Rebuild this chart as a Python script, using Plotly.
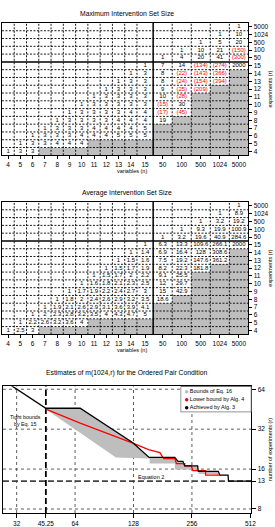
import math
import plotly.graph_objects as go

# ============================ data ============================
N_VALUES = ["4", "5", "6", "7", "8", "9", "10", "11", "12", "13", "14", "15",
            "50", "100", "500", "1024", "5000"]            # columns: variables (n)
R_VALUES = ["4", "5", "6", "7", "8", "9", "10", "11", "12", "13", "14", "15",
            "50", "100", "500", "1024", "5000"]            # rows: experiments (r), bottom -> top
E = None   # n < r : empty cell
X = "-"    # infeasible : shaded cell

MAX_SET_SIZE = [
    ["1", "3", "3", X, X, X, X, X, X, X, X, X, X, X, X, X, X],
    [E, "1", "3", "3", "4", "4", "4", X, X, X, X, X, X, X, X, X, X],
    [E, E, "1", "3", "3", "3", "4", "4", "4", "5", "5", "5", X, X, X, X, X],
    [E, E, E, "1", "3", "3", "3", "4", "4", "4", "4", "5", X, X, X, X, X],
    [E] * 4 + ["1", "3", "3", "3", "3", "4", "4", "4", "19", X, X, X, X],
    [E] * 5 + ["1", "3", "3", "3", "3", "4", "4", "(17)", "(45)", X, X, X],
    [E] * 6 + ["1", "3", "3", "3", "3", "3", "(15)", "30", X, X, X],
    [E] * 7 + ["1", "3", "3", "3", "3", "10", "(28)", X, X, X],
    [E] * 8 + ["1", "3", "3", "3", "9", "(25)", "(209)", X, X],
    [E] * 9 + ["1", "3", "3", "8", "(24)", "(154)", "(394)", X],
    [E] * 10 + ["1", "3", "8", "(22)", "(143)", "(366)", X],
    [E] * 11 + ["1", "7", "14", "(134)", "(274)", "2000"],
    [E] * 12 + ["1", "4", "20", "41", "(300)"],
    [E] * 13 + ["1", "10", "21", "(150)"],
    [E] * 14 + ["1", "5", "20"],
    [E] * 15 + ["1", "10"],
    [E] * 16 + ["1"],
]

AVG_SET_SIZE = [
    ["1", "2.5", "3", X, X, X, X, X, X, X, X, X, X, X, X, X, X],
    [E, "1", "2.2", "2.6", "3.2", "3.6", "4", X, X, X, X, X, X, X, X, X, X],
    [E, E, "1", "2", "2.3", "2.8", "3.2", "3.5", "4", "4.3", "4.7", "5", X, X, X, X, X],
    [E, E, E, "1", "1.9", "2.1", "2.6", "2.9", "3.1", "3.6", "3.9", "4.1", X, X, X, X, X],
    [E] * 4 + ["1", "1.8", "2", "2.4", "2.6", "2.9", "3.2", "3.5", "18.6", X, X, X, X],
    [E] * 5 + ["1", "1.7", "1.9", "2.2", "2.4", "2.7", "3", "15", "42.9", X, X, X],
    [E] * 6 + ["1", "1.6", "1.8", "2.1", "2.3", "2.5", "12", "29.7", X, X, X],
    [E] * 7 + ["1", "1.5", "1.7", "2", "2.2", "9.1", "25.5", X, X, X],
    [E] * 8 + ["1", "1.5", "1.7", "1.9", "8.2", "22.3", "181.8", X, X],
    [E] * 9 + ["1", "1.5", "1.6", "7.5", "19.2", "147.6", "361.2", X],
    [E] * 10 + ["1", "1.4", "6.9", "16.4", "128", "308.6", X],
    [E] * 11 + ["1", "6.3", "13.3", "109.6", "266.1", "2000"],
    [E] * 12 + ["1", "3.2", "19.6", "40.9", "284.6"],
    [E] * 13 + ["1", "9.3", "19.9", "100.9"],
    [E] * 14 + ["1", "3.2", "19.2"],
    [E] * 15 + ["1", "8.9"],
    [E] * 16 + ["1"],
]

# bottom panel: estimates of m(1024, r)
X_TICKS = [32, 45.25, 64, 128, 256, 512]
X_TICK_TEXT = ["32", "45.25", "64", "128", "256", "512"]
Y_TICKS = [8, 13, 16, 32, 64]
Y_TICK_TEXT = ["8", "13", "16", "32", "64"]
EQ15_LIMIT = 45.25
EQ2_VALUE = 13

BOUND_UPPER_M = [45.25, 68, 127, 154, 209, 217, 230, 235, 274, 276, 350, 357, 393]
BOUND_UPPER_R = [46, 46, 25.3, 19.6, 19.6, 18.3, 18.3, 16.9, 16.9, 15.4, 15.4, 14.4, 14.4]
BOUND_LOWER_M = [45.25, 104, 155, 155, 209, 209, 277, 277, 321, 393]
BOUND_LOWER_R = [45.25, 19.6, 19.2, 17.6, 17.6, 15.9, 15.9, 14.7, 14.7, 14.4]

LOWER_ALG4_M = [45.25, 68, 127, 153, 175, 183, 209, 213, 235, 235, 254, 259, 301, 301, 357]
LOWER_ALG4_R = [45.25, 35.5, 25.1, 22.4, 21.3, 19.2, 19.2, 17.6, 17.6, 16.9, 16.9, 15.6, 15.6, 14.4, 14.4]

ACHIEVED_M = [28, 45.25, 68, 127, 154, 209, 217, 230, 235, 274, 276, 350, 357, 393, 395, 520]
ACHIEVED_R = [73, 46, 46, 25.3, 19.6, 19.6, 18.3, 18.3, 16.9, 16.9, 15.4, 15.4, 14.4, 14.4, 13, 13]

LEGEND_LABELS = ["Bounds of Eq. 16", "Lower bound by Alg. 4", "Achieved by Alg. 3"]

# ============================ layout geometry ============================
FIG_W, FIG_H = 275, 527
FONT = "Liberation Sans, Arial, Helvetica, sans-serif"
GRAY = "#bebebe"
RED = "#ff0000"
TICK_FONT = dict(family=FONT, size=6.5, color="black")


def PX(x):
    return x / FIG_W


def PY(y):
    return 1 - y / FIG_H


TABLE_X = (2, 253)
TABLE_Y = [(22, 154.6), (201.4, 334)]
TITLE_Y = [13, 192.4]
XLAB_Y = [170.5, 350]
BOT_X = (3, 256)
BOT_Y = (386, 513)
LEG_BOX = (184, 256, 386, 412)

COL_W = [1.0] * 11 + [1.32] + [1.552] * 5
col_edges = [0.0]
for w in COL_W:
    col_edges.append(col_edges[-1] + w)
col_centers = [(a + b) / 2 for a, b in zip(col_edges[:-1], col_edges[1:])]
n_rows = len(R_VALUES)
row_edges = list(range(n_rows + 1))
row_centers = [i + 0.5 for i in range(n_rows)]
SPLIT = 12  # thick line between 15 and 50

fig = go.Figure()
shapes = []
annotations = []

tables = [(MAX_SET_SIZE, "Maximum Intervention Set Size"),
          (AVG_SET_SIZE, "Average Intervention Set Size")]

for i, (vals, title) in enumerate(tables):
    xa = "x" if i == 0 else "x%d" % (i + 1)
    ya = "y" if i == 0 else "y%d" % (i + 1)
    z = [[1 if v == X else None for v in row] for row in vals]
    fig.add_trace(go.Heatmap(x=col_edges, y=row_edges, z=z, xaxis=xa, yaxis=ya,
                             colorscale=[[0, GRAY], [1, GRAY]], zmin=0, zmax=1,
                             showscale=False, hoverinfo="skip"))
    tx, ty, tt, tc = [], [], [], []
    for ri, row in enumerate(vals):
        for ci, v in enumerate(row):
            if v is None or v == X:
                continue
            tx.append(col_centers[ci])
            ty.append(row_centers[ri])
            tt.append(v)
            tc.append(RED if v.startswith("(") else "black")
    fig.add_trace(go.Scatter(x=tx, y=ty, text=tt, mode="text", xaxis=xa, yaxis=ya,
                             textfont=dict(family=FONT, size=6, color=tc),
                             textposition="middle center", hoverinfo="skip",
                             showlegend=False))
    for k in range(1, len(col_edges) - 1):
        thick = (k == SPLIT)
        shapes.append(dict(type="line", xref=xa, yref=ya, x0=col_edges[k], x1=col_edges[k],
                           y0=row_edges[0], y1=row_edges[-1], layer="above",
                           line=dict(color="black", width=1.5 if thick else 0.9,
                                     dash="solid" if thick else "2px,1.5px")))
    for k in range(1, len(row_edges) - 1):
        thick = (k == SPLIT)
        shapes.append(dict(type="line", xref=xa, yref=ya, y0=row_edges[k], y1=row_edges[k],
                           x0=col_edges[0], x1=col_edges[-1], layer="above",
                           line=dict(color="black", width=1.5 if thick else 0.9,
                                     dash="solid" if thick else "2px,1.5px")))
    yb = TABLE_Y[i]
    axx = dict(domain=[PX(TABLE_X[0]), PX(TABLE_X[1])], range=[col_edges[0], col_edges[-1]],
               anchor=ya, showgrid=False, zeroline=False, showline=True, mirror=True,
               linecolor="black", linewidth=1, ticks="outside", ticklen=3, tickwidth=0.8,
               tickcolor="black", tickvals=col_centers, ticktext=N_VALUES,
               tickfont=TICK_FONT, fixedrange=True)
    axy = dict(domain=[PY(yb[1]), PY(yb[0])], range=[row_edges[0], row_edges[-1]],
               anchor=xa, side="right", showgrid=False, zeroline=False, showline=True,
               mirror=True, linecolor="black", linewidth=1, ticks="outside", ticklen=3,
               tickwidth=0.8, tickcolor="black", tickvals=row_centers, ticktext=R_VALUES,
               tickfont=TICK_FONT, fixedrange=True)
    fig.layout["xaxis" if i == 0 else "xaxis%d" % (i + 1)] = axx
    fig.layout["yaxis" if i == 0 else "yaxis%d" % (i + 1)] = axy
    annotations.append(dict(text=title, x=PX(129), y=PY(TITLE_Y[i]), xref="paper", yref="paper",
                            showarrow=False, xanchor="center", yanchor="middle",
                            font=dict(family=FONT, size=6.8, color="black")))
    annotations.append(dict(text="variables (n)", x=PX(134), y=PY(XLAB_Y[i]), xref="paper",
                            yref="paper", showarrow=False, xanchor="center", yanchor="middle",
                            font=dict(family=FONT, size=5.5, color="black")))
    annotations.append(dict(text="experiments (r)", x=PX(275.5), y=PY((yb[0] + yb[1]) / 2),
                            xref="paper", yref="paper", showarrow=False, textangle=-90,
                            xanchor="center", yanchor="middle",
                            font=dict(family=FONT, size=5.5, color="black")))

# ---------------- bottom panel ----------------
X_RANGE = (27.2, 518)
Y_RANGE = (7.46, 67.4)

for v in X_TICKS:
    if v in (EQ15_LIMIT, X_TICKS[-1]):
        continue
    fig.add_trace(go.Scatter(x=[v, v], y=list(Y_RANGE), mode="lines", xaxis="x3", yaxis="y3",
                             line=dict(color="#333333", width=0.8, dash="dot"),
                             hoverinfo="skip", showlegend=False))
for v in Y_TICKS:
    if v == EQ2_VALUE:
        continue
    fig.add_trace(go.Scatter(x=list(X_RANGE), y=[v, v], mode="lines", xaxis="x3", yaxis="y3",
                             line=dict(color="#333333", width=0.8, dash="dot"),
                             hoverinfo="skip", showlegend=False))

fig.add_trace(go.Scatter(x=BOUND_UPPER_M + BOUND_LOWER_M[::-1],
                         y=BOUND_UPPER_R + BOUND_LOWER_R[::-1],
                         mode="lines", fill="toself", fillcolor=GRAY, line=dict(width=0),
                         xaxis="x3", yaxis="y3", hoverinfo="skip", showlegend=False))

fig.add_trace(go.Scatter(x=[EQ15_LIMIT, EQ15_LIMIT], y=list(Y_RANGE), mode="lines",
                         xaxis="x3", yaxis="y3", line=dict(color="black", width=1.8, dash="6px,3px"),
                         hoverinfo="skip", showlegend=False))
fig.add_trace(go.Scatter(x=list(X_RANGE), y=[EQ2_VALUE, EQ2_VALUE], mode="lines",
                         xaxis="x3", yaxis="y3", line=dict(color="#444444", width=1.8, dash="6px,3px"),
                         hoverinfo="skip", showlegend=False))

fig.add_trace(go.Scatter(x=LOWER_ALG4_M, y=LOWER_ALG4_R, mode="lines", xaxis="x3", yaxis="y3",
                         line=dict(color=RED, width=1.3), hoverinfo="skip", showlegend=False))
fig.add_trace(go.Scatter(x=ACHIEVED_M, y=ACHIEVED_R, mode="lines", xaxis="x3", yaxis="y3",
                         line=dict(color="black", width=1.3), hoverinfo="skip", showlegend=False))

fig.layout.xaxis3 = dict(type="log", domain=[PX(BOT_X[0]), PX(BOT_X[1])],
                         range=[math.log10(X_RANGE[0]), math.log10(X_RANGE[1])], anchor="y3",
                         showgrid=False, zeroline=False, showline=True, mirror=True,
                         linecolor="black", linewidth=1, ticks="outside", ticklen=4,
                         tickwidth=0.8, tickcolor="black", tickvals=X_TICKS, ticktext=X_TICK_TEXT,
                         tickfont=TICK_FONT, fixedrange=True)
fig.layout.yaxis3 = dict(type="log", domain=[PY(BOT_Y[1]), PY(BOT_Y[0])],
                         range=[math.log10(Y_RANGE[0]), math.log10(Y_RANGE[1])], anchor="x3",
                         side="right", showgrid=False, zeroline=False, showline=True, mirror=True,
                         linecolor="black", linewidth=1, ticks="outside", ticklen=4,
                         tickwidth=0.8, tickcolor="black", tickvals=Y_TICKS, ticktext=Y_TICK_TEXT,
                         tickfont=TICK_FONT, fixedrange=True)

annotations.append(dict(text="Estimates of m(1024,r) for the Ordered Pair Condition",
                        x=PX(129), y=PY(372.7), xref="paper", yref="paper", showarrow=False,
                        xanchor="center", yanchor="middle",
                        font=dict(family=FONT, size=6.8, color="black")))
annotations.append(dict(text="Tight bounds<br>by Eq. 15", x=PX(26), y=PY(420.5), xref="paper",
                        yref="paper", showarrow=False, xanchor="center", yanchor="middle",
                        font=dict(family=FONT, size=5.3, color="black")))
annotations.append(dict(text="Equation 2", x=PX(153.5), y=PY(477), xref="paper", yref="paper",
                        showarrow=False, xanchor="center", yanchor="middle",
                        font=dict(family=FONT, size=5.5, color="black")))
annotations.append(dict(text="number of experiments (r)", x=PX(274.5),
                        y=PY((BOT_Y[0] + BOT_Y[1]) / 2), xref="paper", yref="paper",
                        showarrow=False, textangle=-90, xanchor="center", yanchor="middle",
                        font=dict(family=FONT, size=5.5, color="black")))

# ---------------- legend (drawn as its own small panel) ----------------
fig.add_trace(go.Scatter(x=[0, 1, 1, 0, 0], y=[0, 0, 1, 1, 0], mode="lines", fill="toself",
                         fillcolor="white", line=dict(color="black", width=0.9),
                         xaxis="x4", yaxis="y4", hoverinfo="skip", showlegend=False))
leg_y = [0.79, 0.48, 0.17]
fig.add_trace(go.Scatter(x=[0.085] * 3, y=leg_y, mode="markers+text", text=LEGEND_LABELS,
                         textposition="middle right",
                         marker=dict(size=3.5, color=[GRAY, RED, "black"]),
                         textfont=dict(family=FONT, size=5.5, color="black"),
                         xaxis="x4", yaxis="y4", hoverinfo="skip", showlegend=False))
fig.layout.xaxis4 = dict(domain=[PX(LEG_BOX[0]), PX(LEG_BOX[1])], range=[0, 1], visible=False,
                         anchor="y4", fixedrange=True)
fig.layout.yaxis4 = dict(domain=[PY(LEG_BOX[3]), PY(LEG_BOX[2])], range=[0, 1], visible=False,
                         anchor="x4", fixedrange=True)

fig.update_layout(width=FIG_W, height=FIG_H, margin=dict(l=0, r=0, t=0, b=0),
                  paper_bgcolor="white", plot_bgcolor="white", showlegend=False,
                  shapes=shapes, annotations=annotations,
                  font=dict(family=FONT, size=6, color="black"))

fig.write_html("out.html", config={"displayModeBar": False})
